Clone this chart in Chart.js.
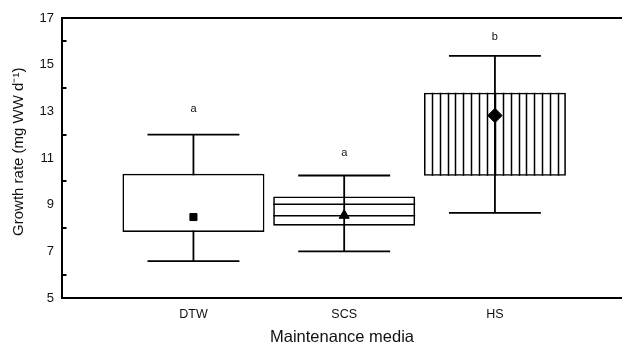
<!DOCTYPE html>
<html><head><meta charset="utf-8">
<script src="https://cdn.jsdelivr.net/npm/chart.js@4/dist/chart.umd.min.js"></script>
<style>html,body{margin:0;padding:0;background:#fff}canvas{display:block}</style>
</head><body>
<canvas id="c" width="622" height="346"></canvas>
<script>
// ---- data ----
const categories   = ['DTW', 'SCS', 'HS'];
const positions    = [1, 2, 3];
const boxLow       = [7.83, 8.10, 10.24];
const boxHigh      = [10.32, 9.35, 13.80];
const whiskerLow   = [6.58, 7.00, 8.65];
const whiskerHigh  = [12.00, 10.25, 15.38];
const meanValues   = [8.47, 8.54, 12.82];
const groupLetters = ['a', 'a', 'b'];
const letterValues = [13.08, 11.23, 16.18];
const scsInnerLines = [9.02, 8.52];
const yTickValues  = [5, 7, 9, 11, 13, 15, 17];
const yMinorTicks  = [6, 8, 10, 12, 14, 16];

// ---- styling ----
const FONT = "'Liberation Sans', Arial, sans-serif";
const CAP_HALF = 0.305;      // half width of whisker caps, x units
const HS_HATCH = 18;         // vertical hatch intervals in HS box

const extras = {
  id: 'extras',
  beforeDatasetsDraw(chart) {
    const {ctx, scales: {x, y}} = chart;
    ctx.save();
    ctx.strokeStyle = '#000';
    ctx.lineWidth = 1.8;
    positions.forEach((p, i) => {
      const cx = x.getPixelForValue(p);
      const half = Math.abs(x.getPixelForValue(p + CAP_HALF) - cx);
      const yl = y.getPixelForValue(whiskerLow[i]);
      const yh = y.getPixelForValue(whiskerHigh[i]);
      ctx.beginPath();
      ctx.moveTo(cx, yl); ctx.lineTo(cx, yh);
      ctx.moveTo(cx - half, yl); ctx.lineTo(cx + half, yl);
      ctx.moveTo(cx - half, yh); ctx.lineTo(cx + half, yh);
      ctx.stroke();
    });
    ctx.restore();
  },
  afterDatasetDraw(chart, args) {
    if (args.index !== 0) return;
    const {ctx, scales: {y}} = chart;
    const meta = chart.getDatasetMeta(0);
    ctx.save();
    ctx.strokeStyle = '#000';
    ctx.lineWidth = 1.5;
    // SCS horizontal lines
    const b1 = meta.data[1].getProps(['x', 'width'], true);
    ctx.beginPath();
    scsInnerLines.forEach(v => {
      const py = y.getPixelForValue(v);
      ctx.moveTo(b1.x - b1.width / 2, py);
      ctx.lineTo(b1.x + b1.width / 2, py);
    });
    ctx.stroke();
    // HS vertical hatch
    const b2 = meta.data[2].getProps(['x', 'y', 'base', 'width'], true);
    const left = b2.x - b2.width / 2;
    ctx.beginPath();
    for (let k = 1; k < HS_HATCH; k++) {
      const px = Math.round(left + k * b2.width / HS_HATCH) + 0.5;
      ctx.moveTo(px, b2.y); ctx.lineTo(px, b2.base);
    }
    ctx.stroke();
    ctx.restore();
  },
  afterDraw(chart) {
    const {ctx, chartArea: a, scales: {x, y}} = chart;
    ctx.save();
    ctx.strokeStyle = '#000';
    // top frame line
    ctx.lineWidth = 2;
    ctx.beginPath();
    ctx.moveTo(a.left, a.top); ctx.lineTo(a.right, a.top);
    ctx.stroke();
    // inward minor ticks
    ctx.beginPath();
    yMinorTicks.forEach(v => {
      const py = Math.round(y.getPixelForValue(v));
      ctx.moveTo(a.left, py); ctx.lineTo(a.left + 4.5, py);
    });
    ctx.stroke();
    // group letters
    ctx.fillStyle = '#111';
    ctx.font = "11px " + FONT;
    ctx.textAlign = 'center';
    ctx.textBaseline = 'middle';
    positions.forEach((p, i) => {
      ctx.fillText(groupLetters[i], x.getPixelForValue(p), y.getPixelForValue(letterValues[i]));
    });
    ctx.restore();
  }
};

new Chart(document.getElementById('c'), {
  type: 'bar',
  data: {
    datasets: [
      {
        type: 'bar',
        data: positions.map((p, i) => ({x: p, y: [boxLow[i], boxHigh[i]]})),
        backgroundColor: ['#ffffff', 'rgba(255,255,255,0)', 'rgba(255,255,255,0)'],
        borderColor: '#000',
        borderWidth: 1.6,
        borderSkipped: false,
        barPercentage: 0.942,
        categoryPercentage: 1,
        order: 2
      },
      {
        type: 'scatter',
        data: positions.map((p, i) => ({x: p, y: meanValues[i]})),
        pointStyle: ['rect', 'triangle', 'rectRot'],
        pointRadius: [5, 5.8, 7.2],
        backgroundColor: '#000',
        borderColor: '#000',
        borderWidth: 1,
        order: 1
      }
    ]
  },
  plugins: [extras],
  options: {
    responsive: false,
    animation: false,
    layout: {autoPadding: false, padding: {top: 18, right: 0, left: 0, bottom: 0}},
    plugins: {legend: {display: false}, tooltip: {enabled: false}},
    scales: {
      x: {
        type: 'linear',
        offset: false,
        min: 0.128,
        max: 3.843,
        afterBuildTicks: s => { s.ticks = positions.map(v => ({value: v})); },
        afterFit: s => { s.height = 48; s.paddingLeft = 0; s.paddingRight = 0; },
        grid: {display: false, drawTicks: false},
        border: {display: true, color: '#000', width: 2},
        ticks: {
          padding: 9,
          color: '#111',
          font: {family: FONT, size: 12.5},
          callback: (v, i) => categories[i]
        },
        title: {
          display: true,
          text: 'Maintenance media',
          color: '#111',
          font: {family: FONT, size: 16.5, lineHeight: 1.0},
          padding: {top: 0, bottom: 0}
        }
      },
      y: {
        type: 'linear',
        min: 5,
        max: 17,
        afterBuildTicks: s => { s.ticks = yTickValues.map(v => ({value: v})); },
        afterFit: s => { s.width = 62; },
        grid: {display: false, drawTicks: false},
        border: {display: true, color: '#000', width: 2},
        ticks: {
          padding: 8,
          color: '#111',
          font: {family: FONT, size: 13}
        },
        title: {
          display: true,
          text: '   Growth rate (mg WW d⁻¹)',
          color: '#111',
          font: {family: FONT, size: 15, lineHeight: 1.0},
          padding: {top: 11, bottom: 0}
        }
      }
    }
  }
});
</script>
</body></html>
